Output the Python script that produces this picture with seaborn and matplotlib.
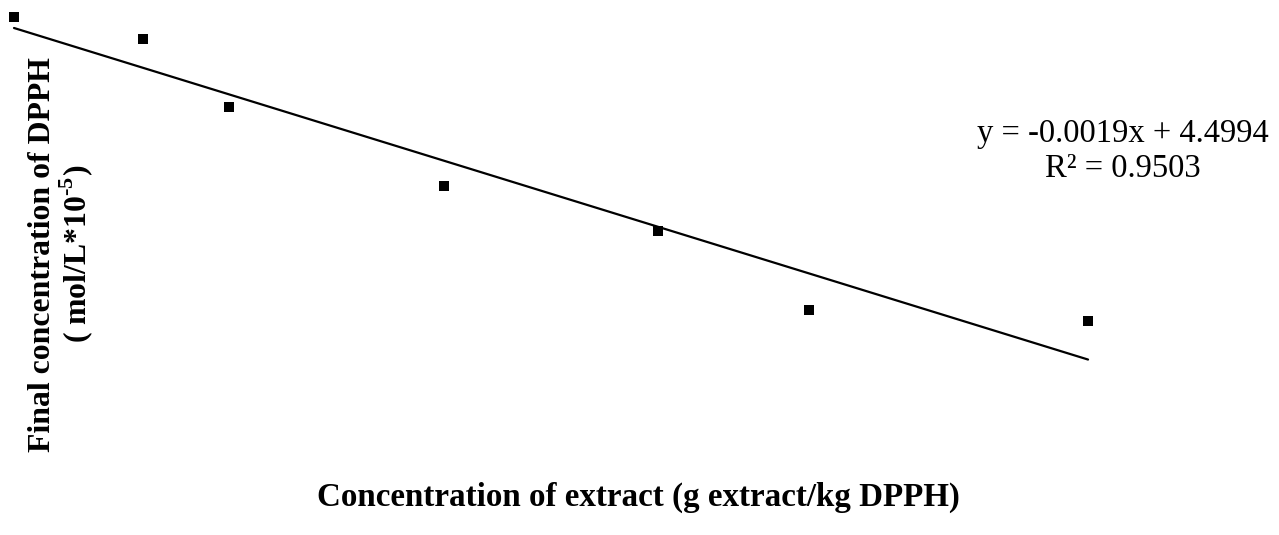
import matplotlib
matplotlib.use("Agg")
import matplotlib.pyplot as plt
import seaborn as sns
import numpy as np
import pandas as pd

# Extract concentration (g extract / kg DPPH) and final DPPH concentration (mol/L*10^-5)
extract_conc = [0, 60, 100, 200, 300, 370, 500]
dpph_final = [4.531, 4.468, 4.273, 4.047, 3.918, 3.691, 3.660]

# Linear trendline coefficients
slope = -0.0019
intercept = 4.4994
r_squared = 0.9503

sns.set_theme(style="white")
plt.rcParams["font.family"] = ["Liberation Serif", "DejaVu Serif"]
plt.rcParams["text.color"] = "black"
plt.rcParams["mathtext.fontset"] = "custom"
plt.rcParams["mathtext.rm"] = "Liberation Serif"
plt.rcParams["mathtext.bf"] = "Liberation Serif:bold"

df = pd.DataFrame({"x": extract_conc, "y": dpph_final})
x_fit = np.array([min(extract_conc), max(extract_conc)])
fit = pd.DataFrame({"x": x_fit, "y": slope * x_fit + intercept})

fig = plt.figure(figsize=(12.79, 5.35), dpi=100)
ax = fig.add_axes([0, 0, 1, 1])

sns.lineplot(data=fit, x="x", y="y", ax=ax, color="black", linewidth=1.6)
sns.scatterplot(data=df, x="x", y="y", ax=ax, marker="s", s=52,
                color="black", edgecolor="black", linewidth=0, zorder=3)

ax.set_xlim(-6.52, 588.9)
ax.set_ylim(3.0467, 4.5796)
ax.set_axis_off()

fig.text(0.499, 0.071, "Concentration of extract (g extract/kg DPPH)",
         ha="center", va="center", fontsize=23.8, fontweight="bold",
         color="black")
fig.text(0.048, 0.525, "Final concentration of DPPH\n( mol/L*10$^{\\mathbf{\u20105}}$)",
         ha="center", va="center", rotation=90, fontsize=22.9,
         fontweight="bold", multialignment="center", linespacing=1.0,
         color="black")
fig.text(0.878, 0.718,
         f"y = {slope}x + {intercept}\nR² = {r_squared}",
         ha="center", va="center", fontsize=23.5, multialignment="center",
         linespacing=1.2, color="black")

fig.savefig("out.png", dpi=100)
